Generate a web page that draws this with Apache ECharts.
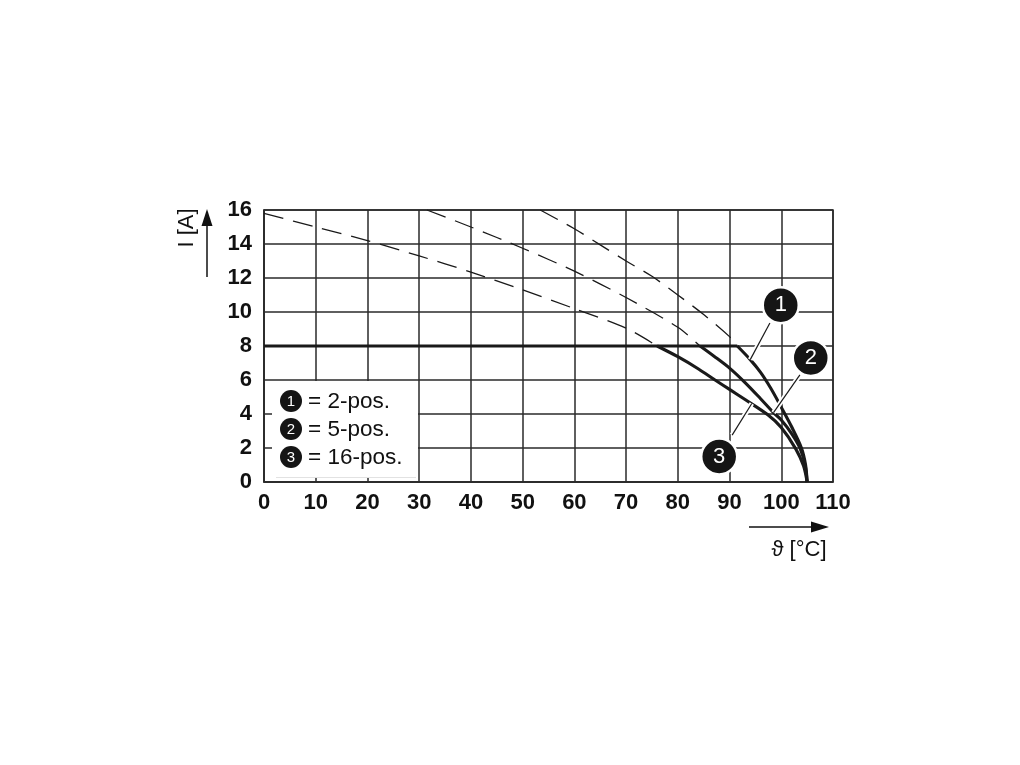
<!DOCTYPE html>
<html>
<head>
<meta charset="utf-8">
<script src="https://cdn.jsdelivr.net/npm/echarts@6/dist/echarts.min.js"></script>
<style>html,body{margin:0;padding:0;background:#fff}#c{width:1020px;height:765px}</style>
</head>
<body>
<div id="c"></div>
<script>
// ---- data ----
const xTicks = { min: 0, max: 110, interval: 10 };
const yTicks = { min: 0, max: 16, interval: 2 };
const legendLabels = ['2-pos.', '5-pos.', '16-pos.'];
const legendNumbers = ['1', '2', '3'];
const limitLine = [[0, 8], [91.5, 8]];
const curve1Dashed = [[53.4, 16], [60, 14.9], [65, 13.95], [70, 13.0], [75, 12.1], [80, 11.0], [85, 9.85], [90, 8.55], [91.5, 8]];
const curve1Solid = [[91.5, 8], [94, 7.2], [96, 6.45], [98, 5.5], [100, 4.4], [102, 3.25], [103.9, 2.0], [104.7, 1.0], [105, 0]];
const curve2Dashed = [[31.5, 16], [40, 15.0], [50, 13.75], [60, 12.4], [70, 10.85], [80, 9.1], [84.3, 8]];
const curve2Solid = [[84.3, 8], [87, 7.4], [90, 6.7], [93, 5.85], [96, 4.9], [98.6, 4.05], [100, 3.65], [102, 2.85], [103.6, 2.0], [104.6, 1.0], [105, 0]];
const curve3Dashed = [[0, 15.8], [10, 15.0], [20, 14.2], [30, 13.3], [40, 12.35], [50, 11.3], [60, 10.2], [70, 9.05], [76, 8]];
const curve3Solid = [[76, 8], [80, 7.37], [84, 6.65], [87.2, 6.0], [90, 5.45], [93, 4.85], [97.4, 3.95], [100, 3.2], [102.8, 1.95], [104.3, 0.95], [105, 0]];
const calloutPos = [[99.9, 10.4], [105.7, 7.3], [88.0, 1.5]];
const leaderLines = [
  [[97.8, 9.35], [94.0, 7.2]],
  [[103.6, 6.3], [98.5, 4.08]],
  [[90.5, 2.76], [94.3, 4.62]]
];

// ---- chart ----
const FONT = '"Liberation Sans", Arial, Helvetica, sans-serif';
const INK = '#1a1a1a';
const chart = echarts.init(document.getElementById('c'));

function dashed(data) {
  return { type: 'line', data: data, smooth: 0.3, symbol: 'none', z: 3,
    lineStyle: { color: INK, width: 1.3, type: [20, 10] }, animation: false };
}
function solid(data) {
  return { type: 'line', data: data, smooth: 0.3, symbol: 'none', z: 4,
    lineStyle: { color: INK, width: 3.1 }, animation: false };
}

const series = [
  dashed(curve1Dashed), dashed(curve2Dashed), dashed(curve3Dashed),
  { type: 'line', data: limitLine, symbol: 'none', z: 4, lineStyle: { color: INK, width: 3.1 }, animation: false },
  solid(curve1Solid), solid(curve2Solid), solid(curve3Solid)
];
leaderLines.forEach(function (seg) {
  series.push({ type: 'line', data: seg, symbol: 'none', z: 5, silent: true,
    lineStyle: { color: '#fff', width: 5 }, animation: false });
  series.push({ type: 'line', data: seg, symbol: 'none', z: 6, silent: true,
    lineStyle: { color: INK, width: 1.2 }, animation: false });
});
series.push({
  type: 'scatter', z: 7, symbol: 'circle', symbolSize: 36, animation: false,
  data: calloutPos.map(function (p, i) { return { value: p, name: legendNumbers[i] }; }),
  itemStyle: { color: '#151515', borderColor: '#fff', borderWidth: 2.5, opacity: 1 },
  label: { show: true, position: 'inside', formatter: '{b}', color: '#fff', fontSize: 22, fontFamily: FONT }
});

const axisLbl = { color: '#111', fontSize: 22, fontWeight: 'bold', fontFamily: FONT };
const gridLine = { show: true, lineStyle: { color: '#2a2a2a', width: 1.5 } };

// legend box graphics
const legendG = [
  { type: 'rect', left: 272, top: 381, z: 50, shape: { width: 146, height: 97 }, style: { fill: '#fff' } },
  { type: 'line', z: 50, shape: { x1: 276, y1: 477.5, x2: 416, y2: 477.5 }, style: { stroke: '#e2e2e2', lineWidth: 1 } }
];
legendLabels.forEach(function (t, i) {
  const cy = 401 + i * 28;
  legendG.push({ type: 'circle', z: 51, shape: { cx: 291, cy: cy, r: 11 }, style: { fill: '#151515' } });
  legendG.push({ type: 'text', z: 52, style: { x: 291, y: cy + 1, text: legendNumbers[i], fill: '#fff',
    font: '15px ' + FONT, textAlign: 'center', textVerticalAlign: 'middle' } });
  legendG.push({ type: 'text', z: 52, style: { x: 308, y: cy + 1, text: '= ' + t, fill: '#111',
    font: '22.5px ' + FONT, textAlign: 'left', textVerticalAlign: 'middle' } });
});

// axis titles with arrows
const titleG = [
  { type: 'text', z: 60, x: 187, y: 228, rotation: Math.PI / 2,
    style: { x: 0, y: 0, text: 'I [A]', fill: '#111', font: '22px ' + FONT, textAlign: 'center', textVerticalAlign: 'middle' } },
  { type: 'line', z: 60, shape: { x1: 207, y1: 277, x2: 207, y2: 222 }, style: { stroke: '#111', lineWidth: 1.5 } },
  { type: 'polygon', z: 60, shape: { points: [[207, 209], [201.5, 226], [212.5, 226]] }, style: { fill: '#111' } },
  { type: 'text', z: 60, style: { x: 799, y: 550, text: '\u03D1 [°C]', fill: '#111', font: '22px ' + FONT,
    textAlign: 'center', textVerticalAlign: 'middle' } },
  { type: 'line', z: 60, shape: { x1: 749, y1: 527, x2: 815, y2: 527 }, style: { stroke: '#111', lineWidth: 1.5 } },
  { type: 'polygon', z: 60, shape: { points: [[829, 527], [811, 521.5], [811, 532.5]] }, style: { fill: '#111' } }
];

chart.setOption({
  animation: false,
  backgroundColor: '#fff',
  grid: { left: 264, right: 187, top: 210, bottom: 283, show: true, borderColor: '#2a2a2a', borderWidth: 1.5 },
  xAxis: {
    type: 'value', min: xTicks.min, max: xTicks.max, interval: xTicks.interval,
    axisLine: { show: true, lineStyle: { color: '#2a2a2a', width: 1.5 } },
    axisTick: { show: false }, splitLine: gridLine,
    axisLabel: Object.assign({ margin: 10 }, axisLbl)
  },
  yAxis: {
    type: 'value', min: yTicks.min, max: yTicks.max, interval: yTicks.interval,
    axisLine: { show: true, lineStyle: { color: '#2a2a2a', width: 1.5 } },
    axisTick: { show: false }, splitLine: gridLine,
    axisLabel: Object.assign({ margin: 12 }, axisLbl)
  },
  series: series,
  graphic: legendG.concat(titleG)
});
</script>
</body>
</html>
